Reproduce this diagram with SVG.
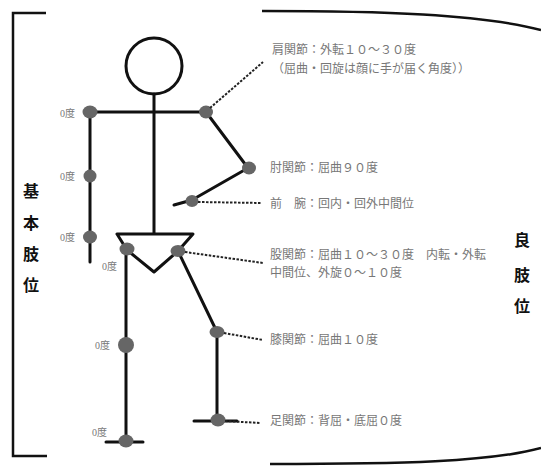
<svg xmlns="http://www.w3.org/2000/svg" width="541" height="466" viewBox="0 0 541 466">
  <style>
    .bone { stroke: #111; stroke-width: 3; fill: none; stroke-linecap: round; stroke-linejoin: round; }
    .frame { stroke: #111; stroke-width: 2.5; fill: none; }
    .joint { fill: #666; }
    .lead { stroke: #222; stroke-width: 2; stroke-dasharray: 2.5 1.5; fill: none; }
    .note { font-family: "Noto Sans CJK JP", "Noto Sans CJK SC", sans-serif; font-size: 12px; fill: #777; }
    .deg { font-family: "Liberation Serif", "Noto Sans CJK JP", serif; font-size: 10px; fill: #777; }
    .title { font-family: "Noto Sans CJK JP", "Noto Sans CJK SC", sans-serif; font-size: 16px; font-weight: bold; fill: #111; text-anchor: middle; }
  </style>

  <!-- left bracket: basic position -->
  <g id="bracket-basic">
    <path class="frame" d="M46,13 H13 V456 H47"/>
    <text class="title" x="31" y="197">基</text>
    <text class="title" x="31" y="229">本</text>
    <text class="title" x="31" y="260">肢</text>
    <text class="title" x="31" y="291">位</text>
  </g>

  <!-- right bracket: good position -->
  <g id="bracket-good">
    <path class="frame" d="M262,11 C380,11 480,14 541,30"/>
    <path class="frame" d="M270,464 C400,464 490,462 541,448"/>
    <text class="title" x="522" y="246">良</text>
    <text class="title" x="522" y="281">肢</text>
    <text class="title" x="522" y="312">位</text>
  </g>

  <!-- skeleton -->
  <g id="figure">
    <circle class="bone" cx="154" cy="66" r="28"/>
    <path class="bone" d="M154,94 V233"/>
    <path class="bone" d="M90,112 H206"/>
    <!-- hanging arm (basic position) -->
    <path class="bone" d="M90,112 V262"/>
    <!-- bent arm -->
    <path class="bone" d="M206,112 L248,168 L192,200 L174,205"/>
    <!-- pelvis -->
    <path class="bone" d="M117,234 H193 L178,251 L154,272 L127,250 Z"/>
    <!-- straight leg -->
    <path class="bone" d="M126,250 V442"/>
    <path class="bone" d="M106,442 H143"/>
    <!-- bent leg -->
    <path class="bone" d="M178,251 L217,332 V421"/>
    <path class="bone" d="M194,421 H237"/>
  </g>

  <!-- joints -->
  <g id="joints">
    <ellipse class="joint" cx="90" cy="112" rx="7.5" ry="6.5"/>
    <ellipse class="joint" cx="90" cy="176" rx="6.5" ry="6.5"/>
    <ellipse class="joint" cx="90" cy="237" rx="7" ry="6.5"/>
    <ellipse class="joint" cx="206" cy="112" rx="7" ry="6.5"/>
    <ellipse class="joint" cx="249" cy="168" rx="7" ry="6.5"/>
    <ellipse class="joint" cx="192" cy="201" rx="6.5" ry="6"/>
    <ellipse class="joint" cx="127" cy="249" rx="7.5" ry="6.5"/>
    <ellipse class="joint" cx="178" cy="251" rx="7.5" ry="6"/>
    <ellipse class="joint" cx="126" cy="345" rx="8" ry="8"/>
    <ellipse class="joint" cx="126" cy="441" rx="7.5" ry="6.5"/>
    <ellipse class="joint" cx="217" cy="332" rx="7.5" ry="6"/>
    <ellipse class="joint" cx="218" cy="420" rx="7.5" ry="6.5"/>
  </g>

  <!-- connectors from joints to notes -->
  <g id="leaders">
    <path class="lead" d="M210,108 L263,62"/>
    <path class="lead" d="M198,202 L262,203"/>
    <path class="lead" d="M185,252 L263,263"/>
    <path class="lead" d="M224,333 L263,340"/>
    <path class="lead" d="M225,421 L260,423"/>
  </g>

  <!-- notes -->
  <g id="note-shoulder">
    <text class="note" x="272" y="54">肩関節：外転１０～３０度</text>
    <text class="note" x="272" y="73">（屈曲・回旋は顔に手が届く角度））</text>
  </g>
  <g id="note-elbow">
    <text class="note" x="270" y="172">肘関節：屈曲９０度</text>
  </g>
  <g id="note-forearm">
    <text class="note" x="270" y="208">前　腕：回内・回外中間位</text>
  </g>
  <g id="note-hip">
    <text class="note" x="270" y="259">股関節：屈曲１０～３０度　内転・外転</text>
    <text class="note" x="270" y="277">中間位、外旋０～１０度</text>
  </g>
  <g id="note-knee">
    <text class="note" x="270" y="344">膝関節：屈曲１０度</text>
  </g>
  <g id="note-ankle">
    <text class="note" x="270" y="425">足関節：背屈・底屈０度</text>
  </g>

  <!-- zero-degree labels -->
  <g id="deg-labels">
    <text class="deg" x="60" y="117">0度</text>
    <text class="deg" x="60" y="180">0度</text>
    <text class="deg" x="60" y="241">0度</text>
    <text class="deg" x="102" y="270">0度</text>
    <text class="deg" x="95" y="349">0度</text>
    <text class="deg" x="92" y="436">0度</text>
  </g>
</svg>
